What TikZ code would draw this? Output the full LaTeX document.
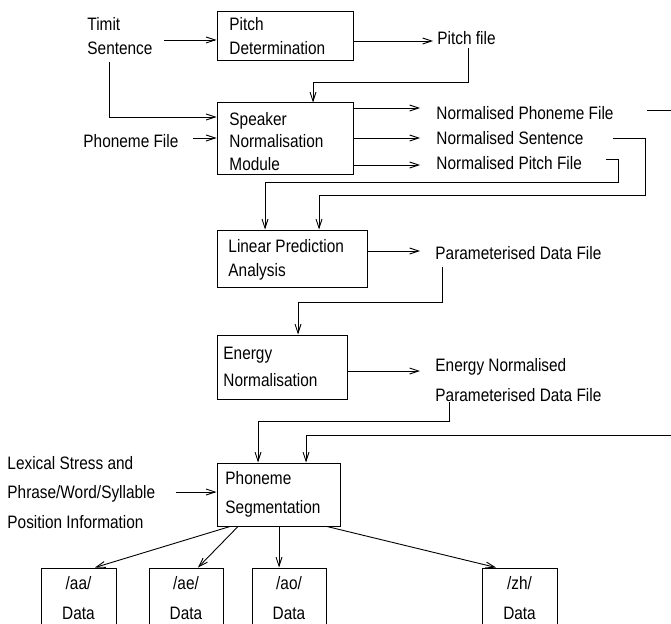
\documentclass[tikz,border=0pt]{standalone}
\usepackage{fontspec}
\setmainfont{Liberation Sans}[FakeStretch=0.855]
\usetikzlibrary{arrows.meta}
\newcommand\fsk[1]{\fontsize{18}{#1}\selectfont}
\begin{document}
\begin{tikzpicture}[x=1pt,y=-1pt,
  line width=0.9pt,
  arr/.style={-{Straight Barb[length=9pt,width=6pt]}},
  box/.style={draw, line width=1pt, inner sep=0pt},
  lbl/.style={font=\fsk{24}, inner sep=0pt, anchor=west, text height=13pt, text depth=0pt},
  mlbl/.style={font=\fsk{#1}, inner sep=0pt, anchor=west, align=left},
  dbox/.style={draw, line width=1pt, inner sep=0pt, minimum height=60pt, font=\fsk{30}, align=center}
]
\useasboundingbox (0,0) rectangle (671,623);
\clip (0,0) rectangle (671,623);

% boxes
\node[box, minimum width=136pt, minimum height=49pt] (pitch) at (285,36.5) {};
\node[box, minimum width=136pt, minimum height=71pt] (speaker) at (285,138.5) {};
\node[box, minimum width=150pt, minimum height=57pt] (lpa) at (292,258.5) {};
\node[box, minimum width=130pt, minimum height=64pt] (en) at (282,367) {};
\node[box, minimum width=123pt, minimum height=63pt] (seg) at (278.5,494.5) {};

% box texts
\node[mlbl=24] (pitchtxt) at (229,36) {Pitch\\Determination};
\node[mlbl=22.5] (speakertxt) at (229,141.5) {Speaker\\Normalisation\\Module};
\node[mlbl=24] (lpatxt) at (228,260) {Linear Prediction\\Analysis};
\node[mlbl=27] (entxt) at (223,366.5) {Energy\\Normalisation};
\node[mlbl=29.5] (segtxt) at (225,494.5) {Phoneme\\Segmentation};

% data boxes
\node[dbox, minimum width=75pt] (aa) at (78.5,598) {/aa/\\Data};
\node[dbox, minimum width=74pt] (ae) at (186,598) {/ae/\\Data};
\node[dbox, minimum width=74pt] (ao) at (289,598) {/ao/\\Data};
\node[dbox, minimum width=75pt] (zh) at (519.5,598) {/zh/\\Data};

% labels
\node[mlbl=24] (timit) at (87,36) {Timit\\Sentence};
\node[lbl] (pfile) at (437,38) {Pitch file};
\node[lbl] (phon) at (83,141) {Phoneme File};
\node[lbl] (npf) at (436,113) {Normalised Phoneme File};
\node[lbl] (ns) at (436,138) {Normalised Sentence};
\node[lbl] (npt) at (436,163) {Normalised Pitch File};
\node[lbl] (pdf) at (435,253) {Parameterised Data File};
\node[mlbl=30] (enpdf) at (435,380) {Energy Normalised\\Parameterised Data File};
\node[mlbl=29.5] (lex) at (7,492.5) {Lexical Stress and\\Phrase/Word/Syllable\\Position Information};

\coordinate (edgeA) at (671,110);
\coordinate (edgeB) at (671,435);

% connectors
\draw[arr, shorten <=11pt] (timit.east |- 0,40) -- (pitch.west |- 0,40);
\draw[arr, shorten <=7pt] (timit.south -| 109,0) |- (speaker.west |- 0,117);
\draw[arr, shorten >=4pt] (pitch.east |- 0,41) -- (pfile.west |- 0,41);
\draw[arr, shorten <=3.5pt] (pfile.south -| 468,0) -- (468,82) -| (speaker.north -| 313,0);
\draw[arr, shorten <=14pt] (phon.east |- 0,138) -- (speaker.west |- 0,138);

\draw[arr, shorten >=16pt] (speaker.east |- 0,108) -- (npf.west |- 0,108);
\draw[arr, shorten >=16pt] (speaker.east |- 0,138) -- (ns.west |- 0,138);
\draw[arr, shorten >=16pt] (speaker.east |- 0,165) -- (npt.west |- 0,165);

\draw[shorten <=33pt] (npf.east |- 0,110) -- (edgeA);
\draw[arr, shorten <=29pt] (ns.east |- 0,138) -| (645,195) -| (lpa.north -| 319,0);
\draw[arr, shorten <=24pt] (npt.east |- 0,159) -| (618,182) -| (lpa.north -| 265,0);

\draw[arr, shorten >=15pt] (lpa.east |- 0,251) -- (pdf.west |- 0,251);
\draw[arr, shorten <=7.5pt] (pdf.south -| 442,0) -- (442,302) -| (en.north -| 298,0);
\draw[arr, shorten >=15pt] (en.east |- 0,371) -- (enpdf.west |- 0,371);
\draw[arr] (enpdf.south -| 449,0) -- (449,421) -| (seg.north -| 258,0);
\draw[arr] (edgeB) -| (seg.north -| 306,0);
\draw[arr, shorten <=20pt] (lex.east |- 0,492) -- (seg.west |- 0,492);

\draw[arr] (seg.south -| 230,0) -- (aa.north -| 95,0);
\draw[arr] (seg.south -| 238,0) -- (ae.north -| 198,0);
\draw[arr] (seg.south -| 279,0) -- (ao.north -| 279,0);
\draw[arr] (seg.south -| 327,0) -- (zh.north -| 496,0);
\end{tikzpicture}
\end{document}
